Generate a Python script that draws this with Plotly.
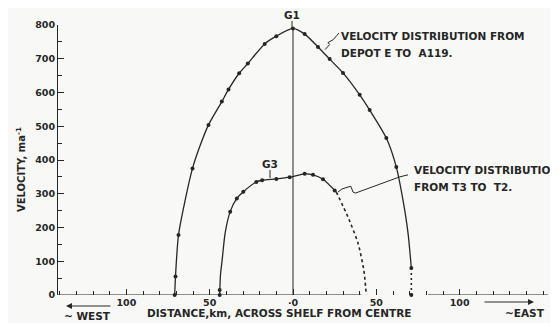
import plotly.graph_objects as go

# outer profile, depot E to A119 (G1)
g1_line_km = [-71, -70.5, -68.7, -64.7, -60.3, -56, -50.7, -42.7, -38.7, -32.3, -27.1, -17, -10, 0, 7, 15, 22, 30, 40, 46, 56, 62, 66, 69, 71]
g1_line_v = [0, 55, 178, 281, 375, 439, 504, 573, 609, 657, 686, 744, 767, 790, 773, 735, 699, 658, 593, 548, 465, 379, 281, 184, 80]
g1_pts_km = [-71, -70.5, -68.7, -60.3, -50.7, -42.7, -38.7, -32.3, -27.1, -17, -10, 0, 7, 15, 22, 30, 40, 46, 56, 62, 71, 71]
g1_pts_v = [0, 55, 178, 375, 504, 573, 609, 657, 686, 744, 767, 790, 773, 735, 699, 658, 593, 548, 465, 379, 80, 0]
g1_tail_km = [71, 71]
g1_tail_v = [80, 0]

# inner profile, T3 to T2 (G3)
g3_line_km = [-44, -43.5, -42.5, -40.7, -37.7, -33.7, -29.8, -22, -18.5, -10, -2, 7, 12, 18, 26]
g3_line_v = [0, 60, 104, 184, 247, 286, 306, 335, 340, 344, 349, 359, 356, 343, 305]
g3_pts_km = [-44, -44, -37.7, -33.7, -29.8, -22, -18.5, -10, -2, 7, 12, 18, 25]
g3_pts_v = [0, 15, 247, 286, 306, 335, 340, 344, 349, 359, 356, 343, 310]
g3_tail_km = [26, 33, 39, 42.5, 44]
g3_tail_v = [305, 231, 154, 74, 0]

x_major = [-100, -50, 0, 50, 100]
x_major_text = ["100", "50", "·0", "50", "100"]
y_major = [0, 100, 200, 300, 400, 500, 600, 700, 800]

INK = "#262626"
FONT = "DejaVu Sans"

# plot box in screen pixels: x 58..548, y 25..295 (page body has an 8px margin)
def px(x):
    return (x - 58) / 490

def py(y):
    return (295 - y) / 270

fig = go.Figure()
fig.add_trace(go.Scatter(x=g1_line_km, y=g1_line_v, mode="lines",
                         line=dict(color=INK, width=1.3, shape="spline", smoothing=0.7), cliponaxis=False))
fig.add_trace(go.Scatter(x=g1_tail_km, y=g1_tail_v, mode="lines",
                         line=dict(color=INK, width=1.6, dash="2px,3px"), cliponaxis=False))
fig.add_trace(go.Scatter(x=g3_line_km, y=g3_line_v, mode="lines",
                         line=dict(color=INK, width=1.3, shape="spline", smoothing=0.7), cliponaxis=False))
fig.add_trace(go.Scatter(x=g3_tail_km, y=g3_tail_v, mode="lines",
                         line=dict(color=INK, width=1.6, dash="3px,3px", shape="spline", smoothing=0.6), cliponaxis=False))
fig.add_trace(go.Scatter(x=g1_pts_km + g3_pts_km, y=g1_pts_v + g3_pts_v, mode="markers",
                         marker=dict(color=INK, size=4), cliponaxis=False))

# centre line up to G1
fig.add_shape(type="line", x0=0, x1=0, y0=0, y1=max(g1_line_v), line=dict(color=INK, width=1))
# broken x axis baseline
fig.add_shape(type="line", x0=-141, x1=41, y0=0, y1=0, line=dict(color=INK, width=1.2))
fig.add_shape(type="line", x0=81, x1=153, y0=0, y1=0, line=dict(color=INK, width=1.2))
# leaders
fig.add_shape(type="path", path="M 19.2,727 L 22,742 L 21,748 L 24,756 L 26.5,770 L 27.5,776",
              line=dict(color=INK, width=1))
fig.add_shape(type="path", path="M 27,305 L 29.3,314 L 33,320 L 34.7,322 L 36,305 L 37.5,302 L 64,350 L 69,356",
              line=dict(color=INK, width=1))
fig.add_shape(type="line", xref="paper", yref="paper", x0=px(292), x1=px(292), y0=py(28), y1=py(21),
              line=dict(color=INK, width=1))
fig.add_shape(type="line", xref="paper", yref="paper", x0=px(270), x1=px(270), y0=py(178), y1=py(170),
              line=dict(color=INK, width=1))

def label(text, x, y, xanchor="left", size=10.5, **kw):
    fig.add_annotation(text=text, xref="paper", yref="paper", x=px(x), y=py(y), xanchor=xanchor,
                       yanchor="middle", showarrow=False,
                       font=dict(family=FONT, size=size, color=INK, weight="bold"), **kw)

label("G1", 292, 15, xanchor="center")
label("G3", 270, 164, xanchor="center")
label("VELOCITY DISTRIBUTION FROM", 339, 36)
label("DEPOT E TO  A119.", 339, 53)
label("VELOCITY DISTRIBUTION", 412, 170)
label("FROM T3 TO  T2.", 412, 187)
label("DISTANCE,km, ACROSS SHELF FROM CENTRE", 145, 313)
label("~ WEST", 62, 316)
label("~EAST", 503, 313)
label("VELOCITY, ma<sup>-1</sup>", 21, 170, xanchor="center", size=10, textangle=-90)

# direction arrows
fig.add_annotation(xref="paper", yref="paper", x=px(66), y=py(306), ax=46, ay=0,
                   axref="pixel", ayref="pixel", text="", showarrow=True, arrowhead=2,
                   arrowsize=1, arrowwidth=1.2, arrowcolor=INK)
fig.add_annotation(xref="paper", yref="paper", x=px(534), y=py(302), ax=-51, ay=0,
                   axref="pixel", ayref="pixel", text="", showarrow=True, arrowhead=2,
                   arrowsize=1, arrowwidth=1.2, arrowcolor=INK)

tick_font = dict(family=FONT, size=9.5, color=INK, weight="bold")

fig.update_layout(
    width=550, height=315,
    margin=dict(l=50, r=10, t=17, b=28),
    paper_bgcolor="#f8f8f6", plot_bgcolor="#f8f8f6",
    showlegend=False,
    font=dict(family=FONT, size=10, color=INK),
)
fig.update_xaxes(range=[-141, 153], showgrid=False, zeroline=False, showline=False,
                 tickvals=x_major, ticktext=x_major_text, ticks="inside", ticklen=6,
                 tickcolor=INK, tickwidth=1, tickfont=tick_font,
                 minor=dict(dtick=10, tick0=0, ticks="inside", ticklen=4, tickcolor=INK, showgrid=False))
fig.update_yaxes(range=[0, 800], showgrid=False, zeroline=False, showline=True, linecolor=INK, linewidth=1.2,
                 tickvals=y_major, ticks="inside", ticklen=6, tickcolor=INK, tickwidth=1, tickfont=tick_font,
                 minor=dict(dtick=50, ticks="inside", ticklen=4, tickcolor=INK, showgrid=False))

fig.write_html("out.html")
